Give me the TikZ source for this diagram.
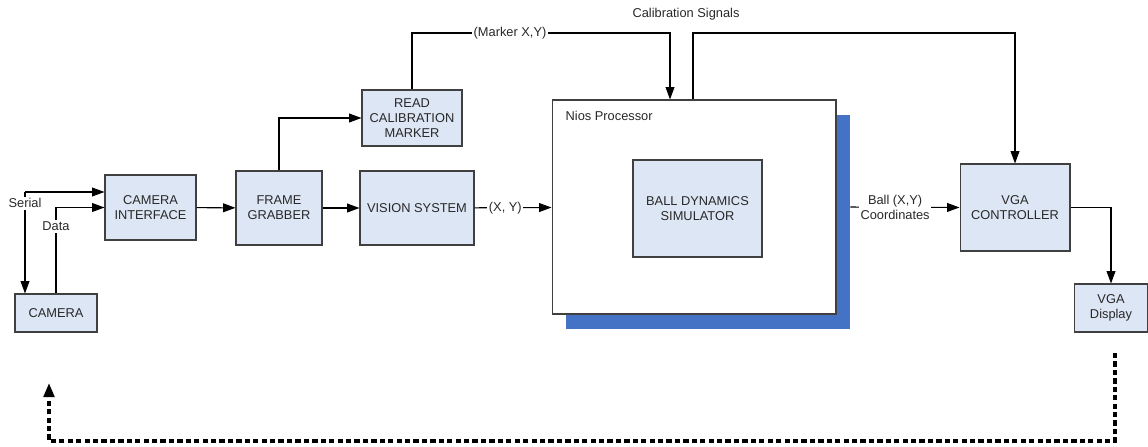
\documentclass[tikz,border=0pt]{standalone}
\usepackage{xcolor}
\usepackage{fontspec}
\setmainfont{Liberation Sans}
\usepackage{tikz}
\usetikzlibrary{positioning,arrows.meta}
\definecolor{boxfill}{RGB}{221,230,244}
\definecolor{boxline}{RGB}{64,64,64}
\definecolor{shadowblue}{RGB}{68,114,196}
\definecolor{txt}{RGB}{40,40,40}

\begin{document}
\begin{tikzpicture}[x=0.02cm,y=-0.02cm,
    font=\fontsize{7.3}{8.6}\selectfont, text=txt,
    block/.style={draw=boxline, line width=0.6pt, fill=boxfill, align=center, inner sep=1pt},
    arrow/.style={draw=black, line width=0.6pt, -{Triangle[length=7pt,width=5pt]}},
    lbl/.style={fill=white, inner sep=1pt, align=center},
    feedback/.style={line width=1.9pt, dash pattern=on 3pt off 1.8pt, -{Triangle[length=8pt,width=6pt]}}]
    \useasboundingbox (0,0) rectangle (1148,446);
	\node[block, minimum width=1.64cm, minimum height=0.76cm] (camera) at (56,313) {CAMERA};
    \node[block, minimum width=1.82cm, minimum height=1.30cm] (camif) at (150.5,207.5) {CAMERA\\INTERFACE};
    \node[block, minimum width=1.72cm, minimum height=1.48cm] (frame) at (279,208) {FRAME\\GRABBER};
    \node[block, minimum width=2.00cm, minimum height=1.12cm] (readcal) at (412,118) {READ\\CALIBRATION\\MARKER};
    \node[block, minimum width=2.28cm, minimum height=1.48cm] (vision) at (417,208) {VISION SYSTEM};
    \node[fill=shadowblue, minimum width=5.68cm, minimum height=4.28cm, inner sep=0pt] (shadow) at (708,222) {};
    \node[draw=boxline, line width=0.6pt, fill=white, minimum width=5.68cm, minimum height=4.28cm, inner sep=0pt] (nios) at (694,207) {};
    \node[anchor=north west] (niostitle) at (nios.north west) [xshift=0.16cm, yshift=-0.12cm] {Nios Processor};
    \node[block, minimum width=2.58cm, minimum height=1.94cm] (ball) at (697.5,208.5) {BALL DYNAMICS\\SIMULATOR};
    \node[block, minimum width=2.20cm, minimum height=1.74cm] (vgac) at (1015,207.5) {VGA\\CONTROLLER};
    \node[block, minimum width=1.46cm, minimum height=0.96cm] (vgad) at (1111,308) {VGA\\Display};
    \node (calsig) at (686,14) {Calibration Signals};
    \coordinate (serialsplit) at (25,192);
    \coordinate (markerturn) at (670,33);
    \coordinate (calturn) at (693,33);
    \coordinate (fbstart) at (1115,353);
    \coordinate (fbcorner) at (1115,441);
    \coordinate (fbend) at (49,383);
    \draw[arrow] (serialsplit) -- (serialsplit -| camif.west);
    \draw[arrow] (serialsplit) -- node[lbl, pos=0.11]{Serial} (serialsplit |- camera.north);
    \draw[arrow] (camera.north) |- node[lbl, pos=0.39]{Data} (camif.west);
    \draw[arrow] (camif) -- (frame);
    \draw[arrow] (frame) -- (vision);
    \draw[arrow] (frame.north) |- (readcal.west);
    \draw[arrow] (readcal.north) |- node[lbl, pos=0.69]{(Marker X,Y)} (markerturn) -- (markerturn |- nios.north);
    \draw[arrow] (calturn |- nios.north) -- (calturn) -| (vgac.north);
    \draw[arrow] (vision) -- node[lbl, pos=0.4]{(X, Y)} (nios);
    \draw[arrow] (shadow.east |- nios.east) -- node[lbl, pos=0.41]{Ball (X,Y)\\Coordinates} (vgac.west);
    \draw[arrow] (vgac.east) -| (vgad.north);
    \draw[feedback] (fbstart) -- (fbcorner) -- (fbcorner -| fbend) -- (fbend);
\end{tikzpicture}
\end{document}
